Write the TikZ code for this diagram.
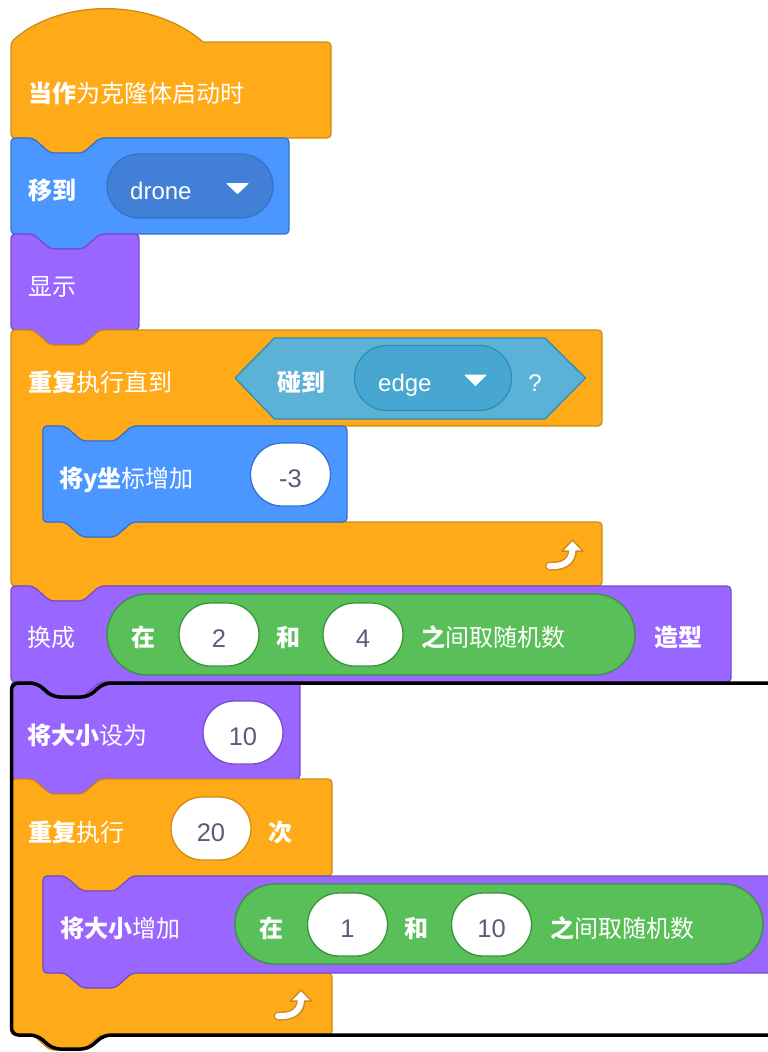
\documentclass[tikz,border=0pt]{standalone}
\usepackage{fontspec}
\setmainfont{Liberation Sans}
\newfontfamily\cjk{Noto Sans CJK SC}
\usetikzlibrary{shapes.misc}

\definecolor{ctrlfill}{HTML}{FFAB19}
\definecolor{ctrlline}{HTML}{CF8B17}
\definecolor{motionfill}{HTML}{4C97FF}
\definecolor{motionline}{HTML}{3373CC}
\definecolor{motionmenu}{HTML}{4280D7}
\definecolor{looksfill}{HTML}{9966FF}
\definecolor{looksline}{HTML}{774DCB}
\definecolor{sensefill}{HTML}{5CB1D6}
\definecolor{senseline}{HTML}{2E8EB8}
\definecolor{sensemenu}{HTML}{47A7D1}
\definecolor{opfill}{HTML}{59C059}
\definecolor{opline}{HTML}{389438}
\definecolor{numgray}{HTML}{575E75}

\tikzset{
  blk/.style={line width=1.3pt, rounded corners=4pt, line join=round},
  ctrlblock/.style={blk, fill=ctrlfill, draw=ctrlline},
  motionblock/.style={blk, fill=motionfill, draw=motionline},
  looksblock/.style={blk, fill=looksfill, draw=looksline},
  senseblock/.style={line width=1.3pt, line join=round, fill=sensefill, draw=senseline},
  lbl/.style={inner sep=0pt, text height=26pt, text depth=0pt, text=white, font=\fontsize{24}{24}\selectfont},
  pill/.style={rounded rectangle, line width=1.3pt, inner sep=0pt},
  numin/.style={pill, fill=white, minimum width=80pt, minimum height=63pt, text=numgray,
    text height=26pt, text depth=0pt, font=\fontsize{25.5}{25.5}\selectfont},
  oppill/.style={pill, fill=opfill, draw=opline, minimum width=528pt, minimum height=81pt},
  menutri/.style={fill=white, draw=white, line width=1pt, line join=round},
  glow/.style={draw=black, line width=3.5pt, rounded corners=7pt, line join=round},
}

% stack block: style, left, top, right, bottom
\newcommand{\stackblock}[5]{%
  \draw[#1] (#2,#3) -- ({#2+22},#3) -- ({#2+39},{#3+15}) -- ({#2+72},{#3+15}) -- ({#2+89},#3)
    -- (#4,#3) -- (#4,#5) -- ({#2+89},#5) -- ({#2+72},{#5+15}) -- ({#2+39},{#5+15})
    -- ({#2+22},#5) -- (#2,#5) -- cycle;}
% c block: style, left, top, right, arm bottom, arm top, bottom
\newcommand{\cblock}[7]{%
  \draw[#1] (#2,#3) -- ({#2+22},#3) -- ({#2+39},{#3+15}) -- ({#2+72},{#3+15}) -- ({#2+89},#3)
    -- (#4,#3) -- (#4,#5) -- ({#2+121},#5) -- ({#2+104},{#5+15}) -- ({#2+71},{#5+15})
    -- ({#2+54},#5) -- ({#2+32},#5) -- ({#2+32},#6) -- ({#2+54},#6) -- ({#2+71},{#6+15})
    -- ({#2+104},{#6+15}) -- ({#2+121},#6) -- (#4,#6) -- (#4,#7) -- ({#2+89},#7)
    -- ({#2+72},{#7+15}) -- ({#2+39},{#7+15}) -- ({#2+22},#7) -- (#2,#7) -- cycle;}
% repeat arrow, tip at (x,y)
\newcommand{\looparrow}[2]{%
  \draw[ctrlline, line width=9pt, line cap=round] (#1,{#2+10}) .. controls (#1,{#2+22}) and ({#1-10},{#2+27}) .. ({#1-23},{#2+26});
  \draw[fill=white, draw=ctrlline, line width=1.5pt, line join=round] (#1,#2) -- ({#1+10.5},{#2+11}) -- ({#1-10.5},{#2+11}) -- cycle;
  \draw[white, line width=6pt, line cap=round] (#1,{#2+9}) .. controls (#1,{#2+22}) and ({#1-10},{#2+27}) .. ({#1-23},{#2+26});}

\begin{document}
\begin{tikzpicture}[x=1pt,y=-1pt]
\useasboundingbox (0,0) rectangle (768,1052);
\clip (0,0) rectangle (768,1052);

% hat
\draw[ctrlblock] (11,42) [sharp corners] .. controls (61,-2) and (153,-2) .. (203,42) [rounded corners=4pt]
  -- (331,42) -- (331,138) -- (100,138) -- (83,153) -- (50,153) -- (33,138) -- (11,138) -- cycle;
\node[lbl, anchor=west] (clonelbl) at (28,89) {\cjk\textbf{当作}为克隆体启动时};

% go to
\stackblock{motionblock}{11}{138}{289}{234}
\node[lbl, anchor=west] (gotolbl) at (28,186) {\cjk\textbf{移到}};
\node[pill, fill=motionmenu, draw=motionline, minimum width=166pt, minimum height=64pt] (gotomenu) at (190,186) {};
\node[lbl, anchor=west] (dronelbl) at (130,186) {drone};
\draw[menutri] (227,183.5) -- (248,183.5) -- (237.5,193.5) -- cycle;

% show
\stackblock{looksblock}{11}{234}{139}{330}
\node[lbl, anchor=west] (showlbl) at (28,282) {\cjk 显示};

% repeat until
\cblock{ctrlblock}{11}{330}{602}{426}{522}{586}
\node[lbl, anchor=west] (untillbl) at (28,378) {\cjk\textbf{重复}执行直到};
\draw[senseblock] (235,378) -- (274.5,338) -- (545,338) -- (585.5,378) -- (545,419) -- (274.5,419) -- cycle;
\node[lbl, anchor=west] (touchlbl) at (277,378) {\cjk\textbf{碰到}};
\node[pill, fill=sensemenu, draw=senseline, minimum width=157pt, minimum height=65pt] (touchmenu) at (433,378) {};
\node[lbl, anchor=west] (edgelbl) at (378,378) {edge};
\draw[menutri] (465,375) -- (486,375) -- (475.5,385.5) -- cycle;
\node[lbl] (asklbl) at (535,378) {?};
\looparrow{572.5}{540}

% change y
\stackblock{motionblock}{43}{426}{347}{522}
\node[lbl, anchor=west] (changeylbl) at (59,474) {\cjk\textbf{将y坐}标增加};
\node[numin, draw=motionline] (dyin) at (290.5,474.5) {-3};

% switch costume
\stackblock{looksblock}{11}{586}{731}{682}
\node[lbl, anchor=west] (costumelbl) at (27,633) {\cjk 换成};
\node[oppill] (randa) at (371,634.5) {};
\node[lbl] (randaat) at (143,633) {\cjk\textbf{在}};
\node[numin, draw=opline] (randafrom) at (219,634.5) {2};
\node[lbl] (randaand) at (288,633) {\cjk\textbf{和}};
\node[numin, draw=opline] (randato) at (363,634.5) {4};
\node[lbl, anchor=west] (randalbl) at (421,633) {\cjk\textbf{之}间取随机数};
\node[lbl, anchor=west] (costumeend) at (654,633) {\cjk\textbf{造型}};

% set size
\stackblock{looksblock}{11}{682}{300}{779}
\node[lbl, anchor=west] (setsizelbl) at (27,731) {\cjk\textbf{将大小}设为};
\node[numin, draw=looksline] (setsizein) at (243,732.5) {10};

% repeat
\cblock{ctrlblock}{11}{779}{332}{876}{973}{1035}
\node[lbl, anchor=west] (repeatlbl) at (28,828) {\cjk\textbf{重复}执行};
\node[numin, draw=ctrlline] (repeatin) at (211,828.5) {20};
\node[lbl] (repeatend) at (280,828) {\cjk\textbf{次}};
\looparrow{301}{990}

% change size
\stackblock{looksblock}{43}{876}{800}{973}
\node[lbl, anchor=west] (growlbl) at (60,924) {\cjk\textbf{将大小}增加};
\node[oppill, minimum height=80pt] (randb) at (499,924) {};
\node[lbl] (randbat) at (271,924) {\cjk\textbf{在}};
\node[numin, draw=opline] (randbfrom) at (347.5,924.5) {1};
\node[lbl] (randband) at (416,924) {\cjk\textbf{和}};
\node[numin, draw=opline] (randbto) at (491.5,924.5) {10};
\node[lbl, anchor=west] (randblbl) at (550,924) {\cjk\textbf{之}间取随机数};

% selection outline
\draw[glow] (11.5,683) -- (37,683) -- (53,697) -- (88,697) -- (104,683) -- (800,683) -- (800,1035)
  -- (104,1035) -- (88,1049) -- (53,1049) -- (37,1035) -- (11.5,1035) -- cycle;
\end{tikzpicture}
\end{document}
